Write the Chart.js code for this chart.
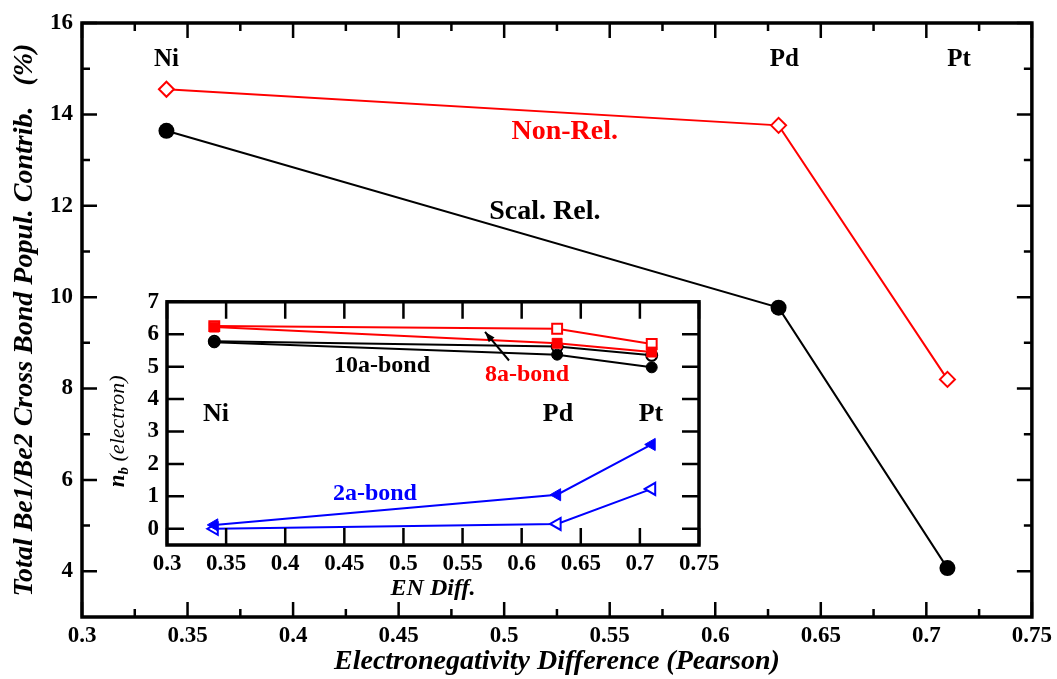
<!DOCTYPE html>
<html><head><meta charset="utf-8">
<script src="https://cdn.jsdelivr.net/npm/chart.js@4.4.1/dist/chart.umd.min.js"></script>
<style>
html,body{margin:0;padding:0;background:#fff;}
#wrap{position:relative;width:1057px;height:679px;background:#fff;}
#main{position:absolute;left:0;top:0;}
#inset{position:absolute;left:95px;top:280px;}
</style></head><body>
<div id="wrap"><canvas id="main" width="1057" height="679"></canvas><canvas id="inset" width="630" height="325"></canvas></div>
<script>
// ---------- data ----------
const metals = ['Ni', 'Pd', 'Pt'];
const enDiff = [0.34, 0.63, 0.71];
// main chart: Total Be1/Be2 cross bond population contribution (%)
const nonRel = [14.55, 13.76, 8.2];
const scalRel = [13.64, 9.77, 4.07];
// main axis ticks
const xTickVals = [0.3, 0.35, 0.4, 0.45, 0.5, 0.55, 0.6, 0.65, 0.7, 0.75];
const xTickLabels = ['0.3', '0.35', '0.4', '0.45', '0.5', '0.55', '0.6', '0.65', '0.7', '0.75'];
const xMinorVals = [0.325, 0.375, 0.425, 0.475, 0.525, 0.575, 0.625, 0.675, 0.725];
const yTickVals = [4, 6, 8, 10, 12, 14, 16];
const yTickLabels = ['4', '6', '8', '10', '12', '14', '16'];
const yMinorVals = [5, 7, 9, 11, 13, 15];
// inset: n_b (electron)
const bond8aScal = [6.22, 5.72, 5.45];
const bond8aNon = [6.25, 6.17, 5.70];
const bond10aScal = [5.75, 5.37, 4.98];
const bond10aNon = [5.78, 5.62, 5.35];
const bond2aScal = [0.12, 1.05, 2.60];
const bond2aNon = [0.00, 0.15, 1.23];
const insetYTickVals = [0, 1, 2, 3, 4, 5, 6, 7];
const insetYTickLabels = ['0', '1', '2', '3', '4', '5', '6', '7'];

const SERIF = "'Liberation Serif','Times New Roman',serif";
Chart.defaults.font.family = SERIF;
Chart.defaults.color = '#000';

const pts = (ys) => enDiff.map((x, i) => ({x, y: ys[i]}));

// frame + inward ticks on all four sides
const frameTicks = {
  id: 'frameTicks',
  afterDatasetsDraw(chart, args, o) {
    const {ctx, chartArea: a, scales: {x, y}} = chart;
    ctx.save();
    ctx.strokeStyle = '#000';
    ctx.lineWidth = o.tickWidth;
    ctx.beginPath();
    const xt = (v, L) => { const p = x.getPixelForValue(v); ctx.moveTo(p, a.bottom); ctx.lineTo(p, a.bottom - L); ctx.moveTo(p, a.top); ctx.lineTo(p, a.top + L); };
    const yt = (v, L) => { const p = y.getPixelForValue(v); ctx.moveTo(a.left, p); ctx.lineTo(a.left + L, p); ctx.moveTo(a.right, p); ctx.lineTo(a.right - L, p); };
    x.ticks.forEach(t => xt(t.value, o.major));
    y.ticks.forEach(t => yt(t.value, o.major));
    (o.xMinor || []).forEach(v => xt(v, o.minor));
    (o.yMinor || []).forEach(v => yt(v, o.minor));
    ctx.stroke();
    ctx.lineWidth = o.frameWidth;
    ctx.strokeRect(a.left, a.top, a.right - a.left, a.bottom - a.top);
    ctx.restore();
  }
};

// text annotations placed in data coordinates
const notes = {
  id: 'notes',
  afterDatasetsDraw(chart, args, o) {
    const {ctx, scales: {x, y}} = chart;
    ctx.save();
    ctx.textAlign = 'center';
    ctx.textBaseline = 'middle';
    (o.items || []).forEach(n => {
      ctx.font = n.font;
      ctx.fillStyle = n.color;
      ctx.fillText(n.text, x.getPixelForValue(n.x), y.getPixelForValue(n.y));
    });
    (o.arrows || []).forEach(ar => {
      const x0 = x.getPixelForValue(ar.x0), y0 = y.getPixelForValue(ar.y0);
      const x1 = x.getPixelForValue(ar.x1), y1 = y.getPixelForValue(ar.y1);
      ctx.strokeStyle = ar.color; ctx.fillStyle = ar.color; ctx.lineWidth = 2;
      ctx.beginPath(); ctx.moveTo(x0, y0); ctx.lineTo(x1, y1); ctx.stroke();
      const ang = Math.atan2(y1 - y0, x1 - x0), L = 11, W = 0.35;
      ctx.beginPath();
      ctx.moveTo(x1, y1);
      ctx.lineTo(x1 - L * Math.cos(ang - W), y1 - L * Math.sin(ang - W));
      ctx.lineTo(x1 - L * Math.cos(ang + W), y1 - L * Math.sin(ang + W));
      ctx.closePath(); ctx.fill();
    });
    if (o.yTitle) {
      const t = o.yTitle;
      const cy = (chart.chartArea.top + chart.chartArea.bottom) / 2 + t.dy;
      ctx.translate(t.cx, cy);
      ctx.rotate(-Math.PI / 2);
      ctx.textAlign = 'left';
      ctx.fillStyle = '#000';
      let total = 0;
      t.parts.forEach(p => { ctx.font = p.font; total += ctx.measureText(p.text).width; });
      let px = -total / 2;
      t.parts.forEach(p => { ctx.font = p.font; ctx.fillText(p.text, px, p.dy); px += ctx.measureText(p.text).width; });
    }
    ctx.restore();
  }
};

const tickFont = {size: 23, weight: 'bold'};
const titleFont = {size: 28, weight: 'bold', style: 'italic'};

// ---------- main chart ----------
new Chart(document.getElementById('main'), {
  type: 'scatter',
  data: {
    datasets: [
      {label: 'Non-Rel.', data: pts(nonRel), showLine: true, borderColor: '#ff0000', borderWidth: 2,
       pointStyle: 'rectRot', pointRadius: 7.5, pointBackgroundColor: '#fff', pointBorderColor: '#ff0000', pointBorderWidth: 2},
      {label: 'Scal. Rel.', data: pts(scalRel), showLine: true, borderColor: '#000', borderWidth: 2,
       pointStyle: 'circle', pointRadius: 8, pointBackgroundColor: '#000', pointBorderColor: '#000', pointBorderWidth: 0}
    ]
  },
  options: {
    responsive: false, animation: false, devicePixelRatio: 1,
    layout: {padding: {left: 0, top: 23, right: 24, bottom: 0}},
    plugins: {
      legend: {display: false}, tooltip: {enabled: false},
      frameTicks: {major: 15, minor: 8, tickWidth: 2.5, frameWidth: 3.5, xMinor: xMinorVals, yMinor: yMinorVals},
      notes: {items: [
        {text: metals[0], x: enDiff[0], y: 15.21, font: 'bold 25px ' + SERIF, color: '#000'},
        {text: metals[1], x: 0.6327, y: 15.21, font: 'bold 25px ' + SERIF, color: '#000'},
        {text: metals[2], x: 0.7155, y: 15.21, font: 'bold 25px ' + SERIF, color: '#000'},
        {text: 'Non-Rel.', x: 0.5287, y: 13.62, font: 'bold 28px ' + SERIF, color: '#ff0000'},
        {text: 'Scal. Rel.', x: 0.5193, y: 11.87, font: 'bold 28px ' + SERIF, color: '#000'}
      ]}
    },
    scales: {
      x: {
        type: 'linear', min: 0.3, max: 0.75,
        afterBuildTicks: s => { s.ticks = xTickVals.map(v => ({value: v})); },
        afterFit: s => { s.height = 62; },
        grid: {display: false, drawTicks: false, tickLength: 0}, border: {display: false},
        ticks: {padding: 5, font: tickFont, maxRotation: 0, autoSkip: false, callback: (v, i) => xTickLabels[i]},
        title: {display: true, text: 'Electronegativity Difference (Pearson)', font: titleFont, padding: {top: 0, bottom: 0}}
      },
      y: {
        type: 'linear', min: 3, max: 16,
        afterBuildTicks: s => { s.ticks = yTickVals.map(v => ({value: v})); },
        afterFit: s => { s.width = 82; },
        grid: {display: false, drawTicks: false, tickLength: 0}, border: {display: false},
        ticks: {padding: 9, font: tickFont, autoSkip: false, callback: (v, i) => yTickLabels[i]},
        title: {display: true, text: 'Total Be1/Be2 Cross Bond Popul. Contrib.   (%)', font: titleFont, padding: {top: 8, bottom: 0}}
      }
    }
  },
  plugins: [frameTicks, notes]
});

// ---------- inset chart ----------
const tri = {pointStyle: 'triangle', pointRotation: -90, pointRadius: 7};
new Chart(document.getElementById('inset'), {
  type: 'scatter',
  data: {
    datasets: [
      {label: '8a Scal', data: pts(bond8aScal), showLine: true, borderColor: '#ff0000', borderWidth: 2,
       pointStyle: 'rect', pointRadius: 7, pointBackgroundColor: '#ff0000', pointBorderColor: '#ff0000', pointBorderWidth: 1},
      {label: '8a Non', data: pts(bond8aNon), showLine: true, borderColor: '#ff0000', borderWidth: 2,
       pointStyle: 'rect', pointRadius: 7, pointBackgroundColor: '#fff', pointBorderColor: '#ff0000', pointBorderWidth: 2},
      {label: '10a Scal', data: pts(bond10aScal), showLine: true, borderColor: '#000', borderWidth: 2,
       pointStyle: 'circle', pointRadius: 5.5, pointBackgroundColor: '#000', pointBorderColor: '#000', pointBorderWidth: 1},
      {label: '10a Non', data: pts(bond10aNon), showLine: true, borderColor: '#000', borderWidth: 2,
       pointStyle: 'circle', pointRadius: 5.5, pointBackgroundColor: '#fff', pointBorderColor: '#000', pointBorderWidth: 2},
      Object.assign({label: '2a Scal', data: pts(bond2aScal), showLine: true, borderColor: '#0000ff', borderWidth: 2,
       pointBackgroundColor: '#0000ff', pointBorderColor: '#0000ff', pointBorderWidth: 1}, tri),
      Object.assign({label: '2a Non', data: pts(bond2aNon), showLine: true, borderColor: '#0000ff', borderWidth: 2,
       pointBackgroundColor: '#fff', pointBorderColor: '#0000ff', pointBorderWidth: 2}, tri)
    ]
  },
  options: {
    responsive: false, animation: false, devicePixelRatio: 1,
    layout: {padding: {left: 0, top: 17, right: 26, bottom: 0}},
    plugins: {
      legend: {display: false}, tooltip: {enabled: false},
      frameTicks: {major: 17, minor: 0, tickWidth: 2.5, frameWidth: 3.5},
      notes: {
        items: [
          {text: '10a-bond', x: 0.4819, y: 5.04, font: 'bold 24px ' + SERIF, color: '#000'},
          {text: '8a-bond', x: 0.6045, y: 4.74, font: 'bold 24px ' + SERIF, color: '#ff0000'},
          {text: metals[0], x: 0.3414, y: 3.53, font: 'bold 26px ' + SERIF, color: '#000'},
          {text: metals[1], x: 0.6307, y: 3.53, font: 'bold 26px ' + SERIF, color: '#000'},
          {text: metals[2], x: 0.7094, y: 3.53, font: 'bold 26px ' + SERIF, color: '#000'},
          {text: '2a-bond', x: 0.4759, y: 1.09, font: 'bold 24px ' + SERIF, color: '#0000ff'}
        ],
        arrows: [{x0: 0.5893, y0: 5.19, x1: 0.569, y1: 6.07, color: '#000'}],
        yTitle: {cx: 23, dy: 8, parts: [
          {text: 'n', font: 'bold italic 23px ' + SERIF, dy: 0},
          {text: 'b', font: 'bold italic 15px ' + SERIF, dy: 6},
          {text: ' (electron)', font: 'italic 22px ' + SERIF, dy: 0}
        ]}
      }
    },
    scales: {
      x: {
        type: 'linear', min: 0.3, max: 0.75,
        afterBuildTicks: s => { s.ticks = xTickVals.map(v => ({value: v})); },
        afterFit: s => { s.height = 60; },
        grid: {display: false, drawTicks: false, tickLength: 0}, border: {display: false},
        ticks: {padding: 5, font: tickFont, maxRotation: 0, autoSkip: false, callback: (v, i) => xTickLabels[i]},
        title: {display: true, text: 'EN Diff.', font: {size: 24, weight: 'bold', style: 'italic'}, padding: {top: 0, bottom: 2}}
      },
      y: {
        type: 'linear', min: -0.5, max: 7,
        afterBuildTicks: s => { s.ticks = insetYTickVals.map(v => ({value: v})); },
        afterFit: s => { s.width = 72; },
        grid: {display: false, drawTicks: false, tickLength: 0}, border: {display: false},
        ticks: {padding: 8, font: tickFont, autoSkip: false, callback: (v, i) => insetYTickLabels[i]},
        title: {display: false}
      }
    }
  },
  plugins: [frameTicks, notes]
});
</script>
</body></html>
